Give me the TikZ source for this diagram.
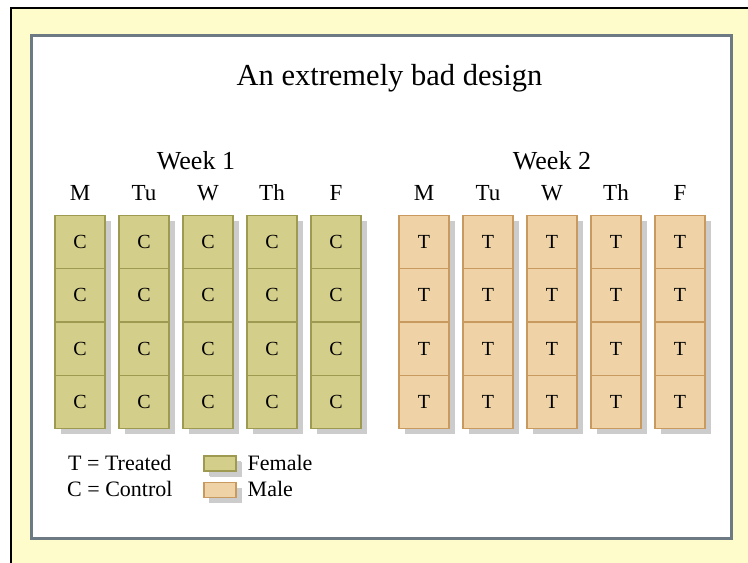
\documentclass[tikz,border=0pt]{standalone}
\usepackage{fontspec}
\setmainfont{Liberation Serif}
\usetikzlibrary{shadows}
\definecolor{paper}{HTML}{FFFCCC}
\definecolor{framegrey}{HTML}{6E7A83}
\definecolor{female}{HTML}{D4CE8B}
\definecolor{femaleline}{HTML}{9F9A52}
\definecolor{male}{HTML}{EFD3A6}
\definecolor{maleline}{HTML}{C99A60}
\definecolor{shadowgrey}{HTML}{CCCCCC}

\begin{document}
\begin{tikzpicture}[x=1pt,y=-1pt,
    cell/.style={line width=1.2pt,minimum width=50pt,minimum height=53.25pt,inner sep=0pt,
      font=\fontsize{20}{20}\selectfont,
      drop shadow={shadow xshift=5.5pt,shadow yshift=-5.5pt,fill=shadowgrey,opacity=1}},
    fcell/.style={cell,draw=femaleline,fill=female},
    mcell/.style={cell,draw=maleline,fill=male},
    day/.style={anchor=base,inner sep=0pt,font=\fontsize{23}{23}\selectfont},
    week/.style={anchor=base,inner sep=0pt,font=\fontsize{26}{26}\selectfont},
    key/.style={anchor=base west,inner sep=0pt,font=\fontsize{22}{22}\selectfont}]
  \useasboundingbox (0,0) rectangle (748,563);
  \fill[paper] (11,8) rectangle (748,563);
  \draw[line width=2.2pt] (748,8) -- (11,8) -- (11,563);
  \draw[framegrey,fill=white,line width=3pt] (31,35.5) rectangle (731.5,538.5);

  \node[anchor=base,inner sep=0pt,font=\fontsize{30.5}{30.5}\selectfont] (title) at (389.5,85) {An extremely bad design};
  \node[week] (week1) at (196,169.3) {Week 1};
  \node[week] (week2) at (552,169.3) {Week 2};

  \foreach \d [count=\i from 0] in {M,Tu,W,Th,F} {
    \node[day] (da-\i) at (80+64*\i,200) {\d};
    \node[day] (db-\i) at (424+64*\i,200) {\d};
    \foreach \j in {0,...,3} {
      \node[fcell] (ca-\i-\j) at (80+64*\i,{242.125+53.25*\j}) {C};
      \node[mcell] (cb-\i-\j) at (424+64*\i,{242.125+53.25*\j}) {T};
    }
  }

  % legend
  \node[key] (treated) at (68,470) {T = Treated};
  \node[key] (control) at (67,496) {C = Control};
  \node[fcell,minimum width=32pt,minimum height=15pt,drop shadow={shadow xshift=5pt,shadow yshift=-5pt,fill=shadowgrey,opacity=1}] (keyf) at (220,463.5) {};
  \node[mcell,minimum width=32pt,minimum height=15pt,drop shadow={shadow xshift=5pt,shadow yshift=-5pt,fill=shadowgrey,opacity=1}] (keym) at (220,490) {};
  \node[key] (femtext) at (247.5,470) {Female};
  \node[key] (maletext) at (247.5,496) {Male};
\end{tikzpicture}
\end{document}
